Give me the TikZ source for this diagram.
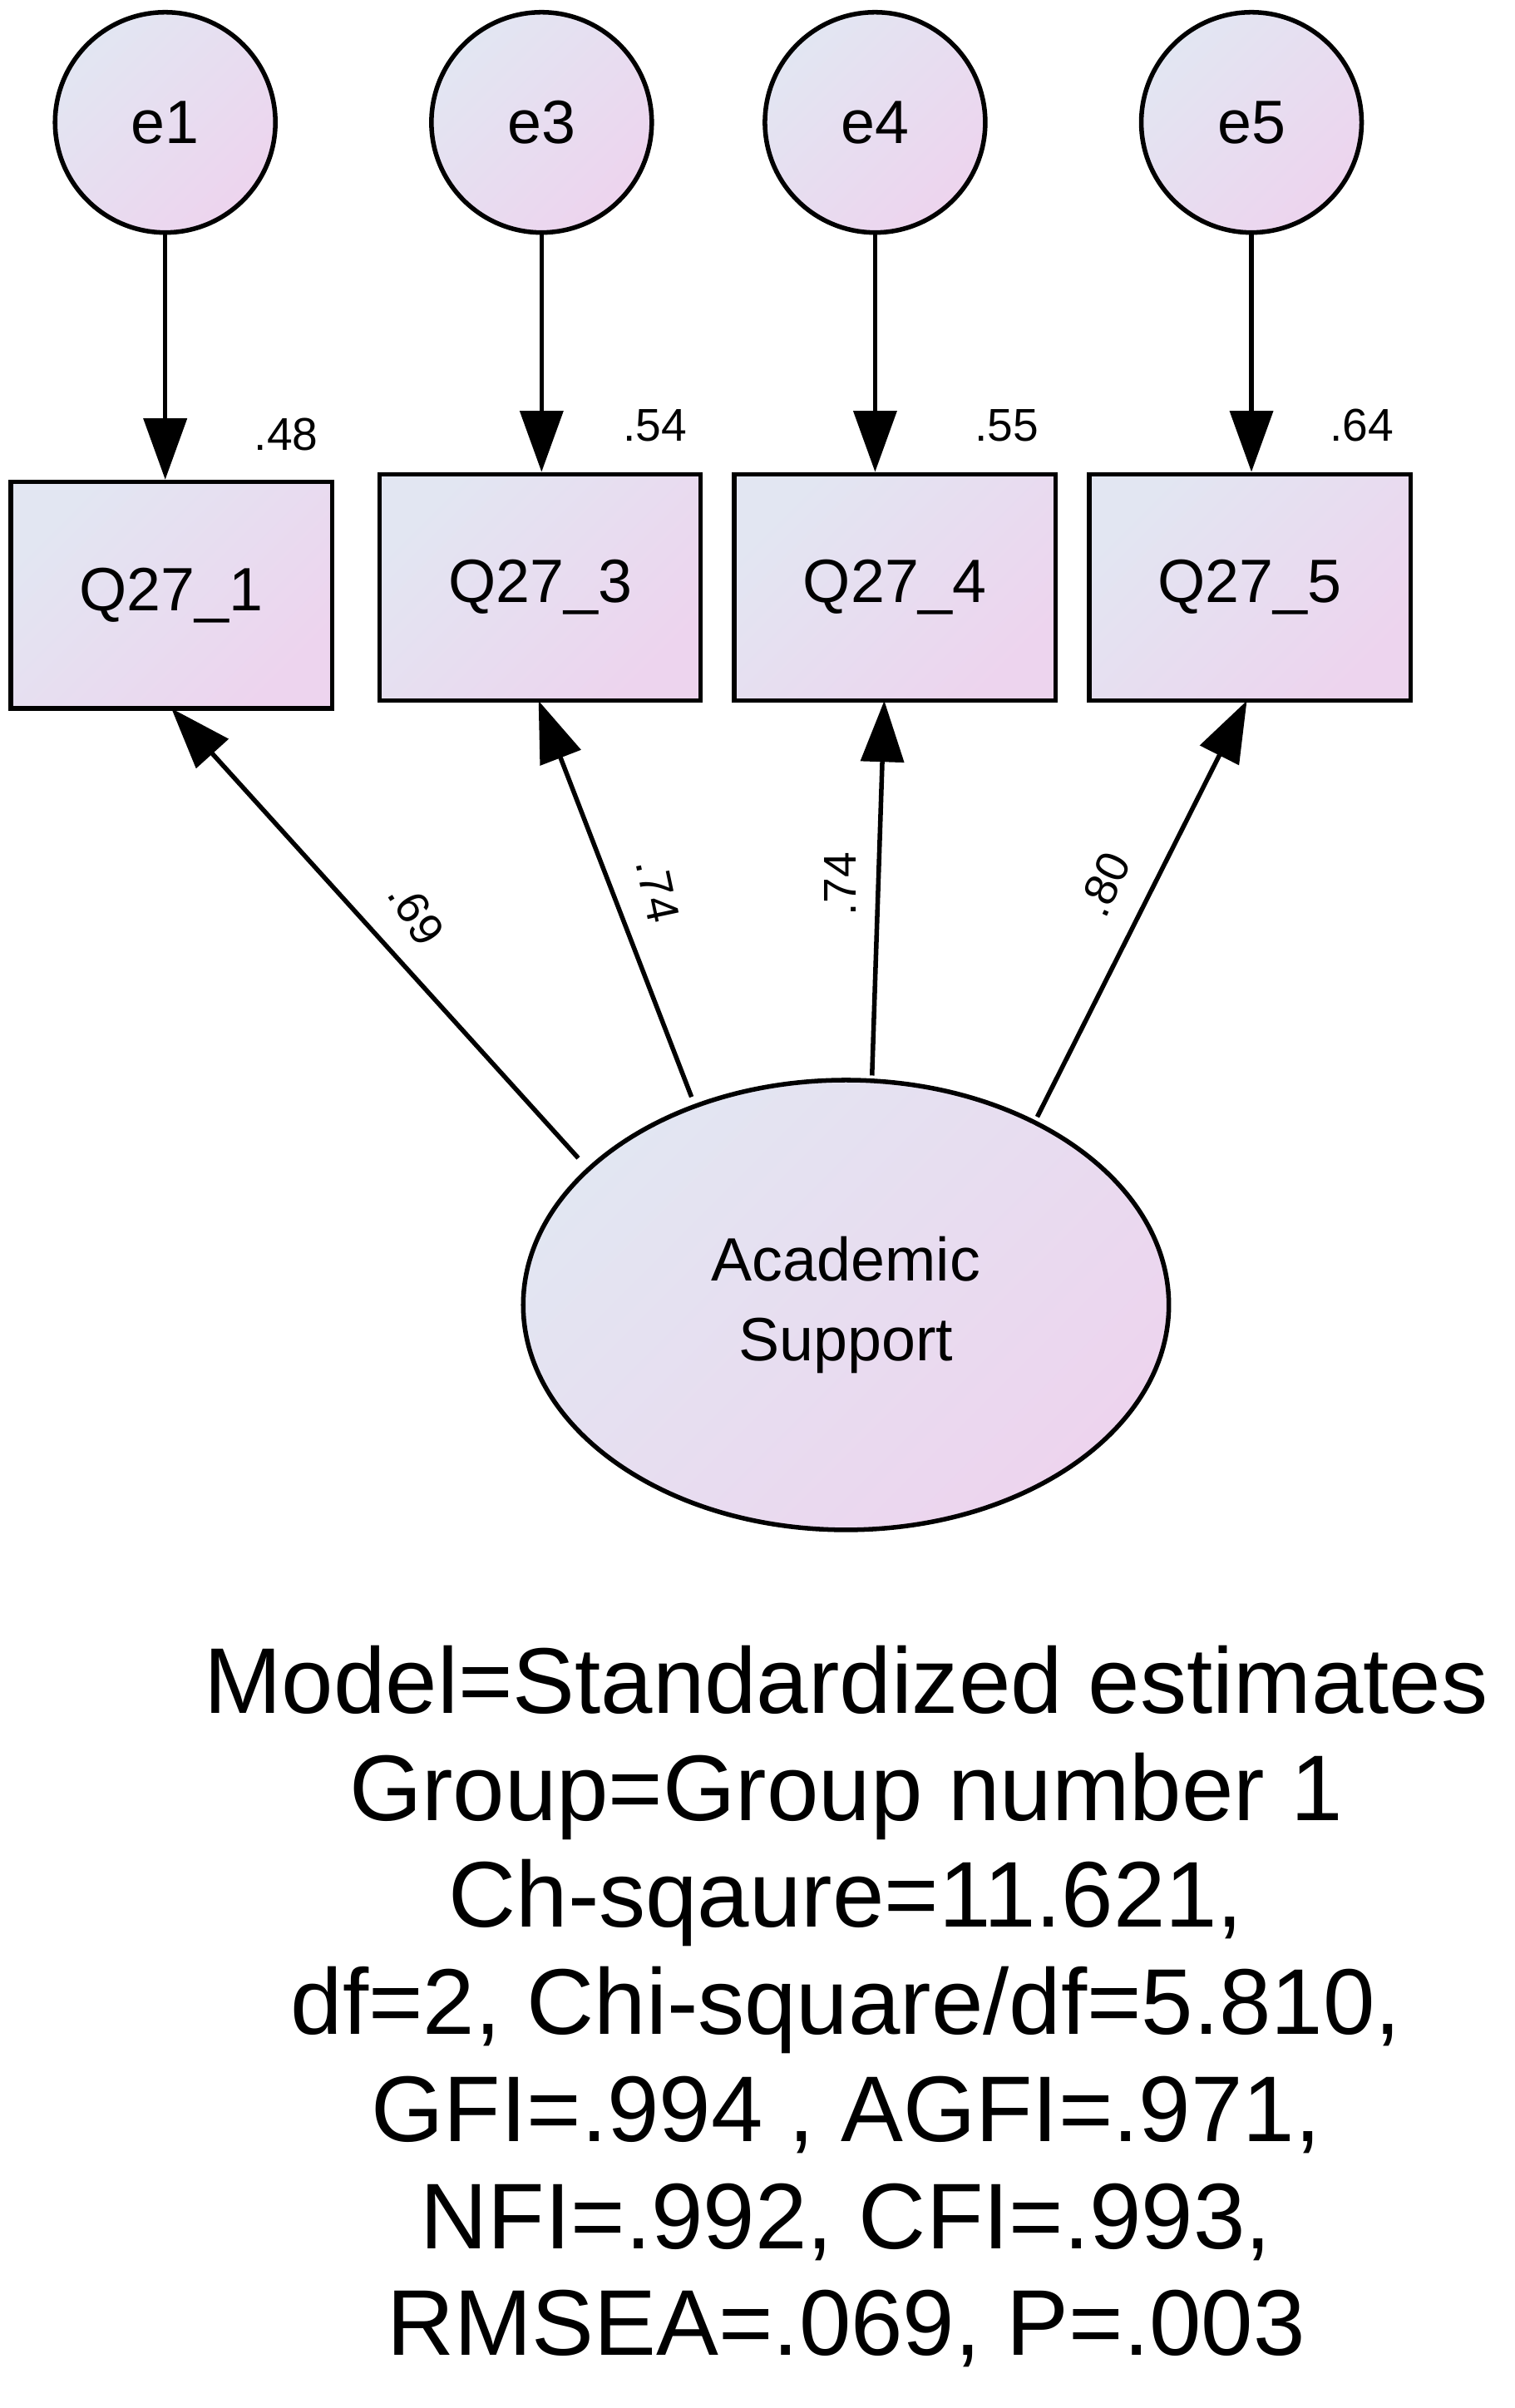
\documentclass[tikz,border=0pt]{standalone}
\usepackage{fontspec}
\setmainfont{Liberation Sans}
\usetikzlibrary{arrows.meta,shapes.geometric}
\begin{document}
\begin{tikzpicture}[x=1pt,y=-1pt,
  fillgrad/.style={left color=lavA,right color=lavB,shading angle=45},
  obs/.style={draw,line width=3pt,fillgrad,minimum width=210pt,minimum height=148pt,inner sep=0pt,font=\fontsize{40}{40}\selectfont},
  err/.style={draw,line width=3pt,circle,fillgrad,minimum size=144pt,inner sep=0pt,font=\fontsize{40}{40}\selectfont},
  arr/.style={line width=3pt,-{Triangle[length=40pt,width=28pt]}},
  lab/.style={font=\fontsize{30}{30}\selectfont,inner sep=0pt},
  fittext/.style={font=\fontsize{61}{70}\selectfont,align=center}]
\definecolor{lavA}{HTML}{E2E6F2}\definecolor{lavB}{HTML}{EDD4EE}
\useasboundingbox (0,0) rectangle (990,1574);
\foreach \n/\x in {1/108,3/354,4/572,5/818}{
  \node[err] (e\n) at (\x,80) {e\n};}
\node[obs] (q1) at (112,389) {Q27\_1};
\node[obs] (q3) at (353,384) {Q27\_3};
\node[obs] (q4) at (585,384) {Q27\_4};
\node[obs] (q5) at (817,384) {Q27\_5};
\node[draw,line width=3pt,ellipse,fillgrad,minimum width=422pt,minimum height=294pt,inner sep=0pt,align=center,font=\fontsize{40}{52}\selectfont] (as) at (553,853) {Academic\\Support};
\draw[arr] (e1) -- (q1.north -| e1);
\draw[arr] (e3) -- (q3.north -| e3);
\draw[arr] (e4) -- (q4.north -| e4);
\draw[arr] (e5) -- (q5.north -| e5);
\coordinate (b1) at (112,463);\coordinate (b3) at (352,458);
\coordinate (b4) at (578,458);\coordinate (b5) at (815,458);
\coordinate (s1) at (378,757);\coordinate (s3) at (452,717);
\coordinate (s4) at (570,703);\coordinate (s5) at (678,730);
\draw[arr] (s1) -- (b1);
\draw[arr] (s3) -- (b3);
\draw[arr] (s4) -- (b4);
\draw[arr] (s5) -- (b5);
\node[lab] (l1) at (187,284) {.48};
\node[lab] (l3) at (428,278) {.54};
\node[lab] (l4) at (658,278) {.55};
\node[lab] (l5) at (890,278) {.64};
\node[lab,rotate=-58] (p1) at (272,597) {.69};
\node[lab,rotate=-78] (p3) at (430,582) {.74};
\node[lab,rotate=90] (p4) at (549,578) {.74};
\node[lab,rotate=65] (p5) at (722,578) {.80};
\node[fittext,anchor=north] (fitt) at (553,1072) {Model=Standardized estimates\\Group=Group number 1\\Ch-sqaure=11.621,\\df=2, Chi-square/df=5.810,\\GFI=.994 , AGFI=.971,\\NFI=.992, CFI=.993,\\RMSEA=.069, P=.003};
\end{tikzpicture}
\end{document}
